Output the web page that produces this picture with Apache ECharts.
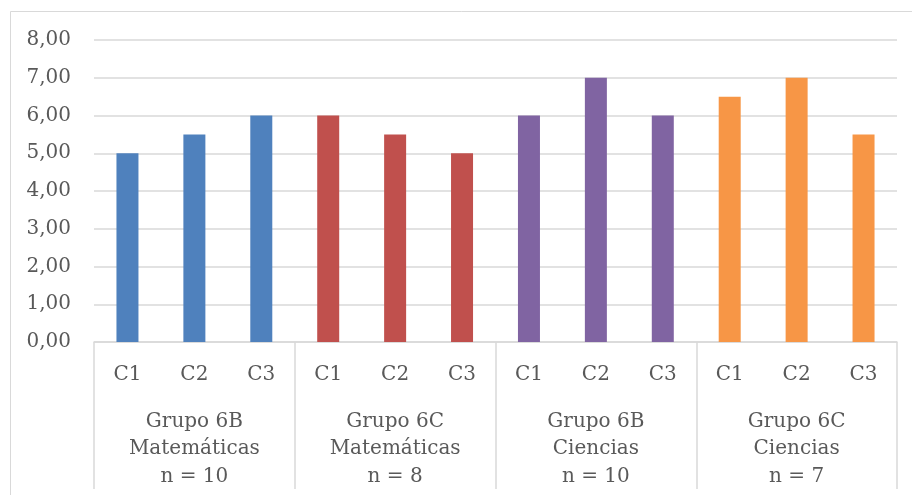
<!DOCTYPE html>
<html>
<head>
<meta charset="utf-8">
<script src="https://cdn.jsdelivr.net/npm/echarts@6/dist/echarts.min.js"></script>
<style>
  html, body { margin: 0; padding: 0; background: #ffffff; }
  #chart { width: 912px; height: 495px; }
</style>
</head>
<body>
<div id="chart"></div>
<script>
// Evaluations C1–C3 for each group / subject
const subCategories = ['C1', 'C2', 'C3'];
const groupLabels = [
  'Grupo 6B\nMatemáticas\nn = 10',
  'Grupo 6C\nMatemáticas\nn = 8',
  'Grupo 6B\nCiencias\nn = 10',
  'Grupo 6C\nCiencias\nn = 7'
];
const grupo6BMatematicas = [5.0, 5.5, 6.0];
const grupo6CMatematicas = [6.0, 5.5, 5.0];
const grupo6BCiencias = [6.0, 7.0, 6.0];
const grupo6CCiencias = [6.5, 7.0, 5.5];
const yTicks = [0, 1, 2, 3, 4, 5, 6, 7, 8];

const groupValues = [grupo6BMatematicas, grupo6CMatematicas, grupo6BCiencias, grupo6CCiencias];
const groupColors = ['#4F81BD', '#C0504D', '#8064A2', '#F79646'];

const xCategories = [];
const barData = [];
groupValues.forEach((vals, g) => {
  vals.forEach((v, i) => {
    xCategories.push(subCategories[i] + '_' + g);
    barData.push({ value: v, itemStyle: { color: groupColors[g] } });
  });
});

const FONT = 'DejaVu Serif';
const TEXT = '#595959';
const GRID = '#D9D9D9';

const chart = echarts.init(document.getElementById('chart'), null, { renderer: 'canvas' });
chart.setOption({
  animation: false,
  backgroundColor: '#ffffff',
  grid: { left: 94, right: 15, top: 40, bottom: 153, containLabel: false },
  xAxis: [
    {
      type: 'category',
      data: xCategories,
      position: 'bottom',
      axisLine: { show: true, lineStyle: { color: GRID, width: 1.5 } },
      axisTick: { show: false },
      axisLabel: {
        color: TEXT, fontFamily: FONT, fontSize: 20, margin: 23,
        formatter: v => v.split('_')[0]
      },
      splitLine: { show: false }
    },
    {
      type: 'category',
      data: groupLabels,
      position: 'bottom',
      boundaryGap: true,
      axisLine: { show: false },
      axisTick: { show: true, length: 147, lineStyle: { color: GRID, width: 1.5 } },
      axisLabel: {
        color: TEXT, fontFamily: FONT, fontSize: 20, lineHeight: 27.5, margin: 66,
        interval: 0
      },
      splitLine: { show: false }
    }
  ],
  yAxis: {
    type: 'value',
    min: yTicks[0],
    max: yTicks[yTicks.length - 1],
    interval: 1,
    axisLine: { show: false },
    axisTick: { show: false },
    axisLabel: {
      color: TEXT, fontFamily: FONT, fontSize: 20, margin: 23,
      formatter: v => v.toFixed(2).replace('.', ',')
    },
    splitLine: { lineStyle: { color: GRID, width: 1.5 } }
  },
  series: [{
    type: 'bar',
    xAxisIndex: 0,
    data: barData,
    barWidth: 22
  }],
  graphic: [{
    type: 'rect',
    shape: { x: 10.5, y: 11.5, width: 1000, height: 600 },
    style: { fill: null, stroke: GRID, lineWidth: 1 },
    silent: true,
    z: -1
  }]
});
</script>
</body>
</html>
